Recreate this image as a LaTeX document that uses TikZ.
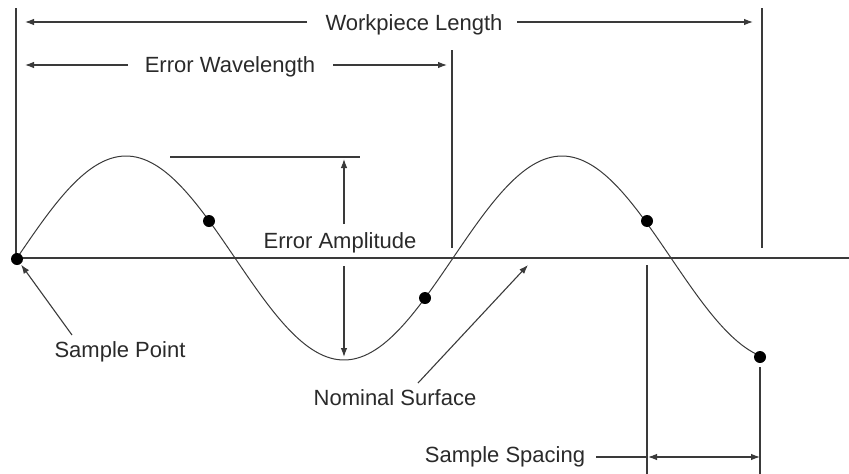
\documentclass[tikz,border=0pt]{standalone}
\usepackage{fontspec}
\setmainfont{Liberation Sans}
\usetikzlibrary{arrows.meta}
\definecolor{linec}{HTML}{3A3A3A}
\definecolor{textc}{HTML}{2A2A2A}
\begin{document}
\begin{tikzpicture}[x=1pt,y=-1pt,
  ln/.style={line width=1.1pt, draw=linec},
  tipend/.style={-{Latex[length=9pt,width=6.5pt]}},
  tipboth/.style={{Latex[length=9pt,width=6.5pt]}-{Latex[length=9pt,width=6.5pt]}},
  lbl/.style={font=\fontsize{22}{26}\selectfont, text=textc, inner sep=0pt, anchor=base},
  dot/.style={circle, fill=black, inner sep=0pt, minimum size=12pt}]
\useasboundingbox (0,0) rectangle (849,474);

% vertical reference lines and nominal surface
\coordinate (LT) at (16,8);   \coordinate (LB) at (16,258);
\coordinate (RT) at (762,8);  \coordinate (RB) at (762,248);
\coordinate (WT) at (452,50); \coordinate (WB) at (452,248);
\coordinate (N0) at (16,258); \coordinate (N1) at (849,258);
\draw[ln] (LT) -- (LB);
\draw[ln] (RT) -- (RB);
\draw[ln] (WT) -- (WB);
\draw[ln] (N0) -- (N1);

% sine curve
\draw[line width=1pt, draw=linec] plot[domain=17:760, samples=200, smooth]
  (\x, {258-102*sin(0.825688*(\x-17))});

% sample dots
\node[dot] (d1) at (17,259) {};
\node[dot] (d2) at (209,221) {};
\node[dot] (d3) at (425,298) {};
\node[dot] (d4) at (647,221) {};
\node[dot] (d5) at (760,357) {};

% labels
\node[lbl] (wl) at (414,30) {Workpiece Length};
\node[lbl] (ew) at (230,72) {Error Wavelength};
\node[lbl] (ea) at (340,248) {Error Amplitude};
\node[lbl] (sp) at (120,357) {Sample Point};
\node[lbl] (ns) at (395,405) {Nominal Surface};
\node[lbl] (ss) at (505,462) {Sample Spacing};

% workpiece length arrows
\coordinate (wlA) at (307,22); \coordinate (wlAt) at (25,22);
\coordinate (wlB) at (517,22); \coordinate (wlBt) at (753,22);
\draw[ln,tipend] (wlA) -- (wlAt);
\draw[ln,tipend] (wlB) -- (wlBt);

% error wavelength arrows
\coordinate (ewA) at (128,65); \coordinate (ewAt) at (25,65);
\coordinate (ewB) at (333,65); \coordinate (ewBt) at (447,65);
\draw[ln,tipend] (ewA) -- (ewAt);
\draw[ln,tipend] (ewB) -- (ewBt);

% error amplitude
\coordinate (pkL) at (170,157); \coordinate (pkR) at (360,157);
\draw[ln] (pkL) -- (pkR);
\coordinate (eaU) at (344,224); \coordinate (eaUt) at (344,159);
\coordinate (eaD) at (344,266); \coordinate (eaDt) at (344,357);
\draw[ln,tipend] (eaU) -- (eaUt);
\draw[ln,tipend] (eaD) -- (eaDt);

% sample point arrow
\coordinate (spA) at (72,335);
\draw[ln,tipend,shorten >=7pt] (spA) -- (d1.center);
% nominal surface arrow
\coordinate (nsA) at (418,383); \coordinate (nsT) at (528,265);
\draw[ln,tipend] (nsA) -- (nsT);

% sample spacing
\coordinate (sv1T) at (647,265); \coordinate (sv1B) at (647,474);
\coordinate (sv2T) at (760,367); \coordinate (sv2B) at (760,474);
\draw[ln] (sv1T) -- (sv1B);
\draw[ln] (sv2T) -- (sv2B);
\coordinate (ssA) at (596,457); \coordinate (ssL) at (648,457); \coordinate (ssR) at (760,457);
\draw[ln] (ssA) -- (ssL);
\draw[ln,tipboth] (ssL) -- (ssR);
\end{tikzpicture}
\end{document}
